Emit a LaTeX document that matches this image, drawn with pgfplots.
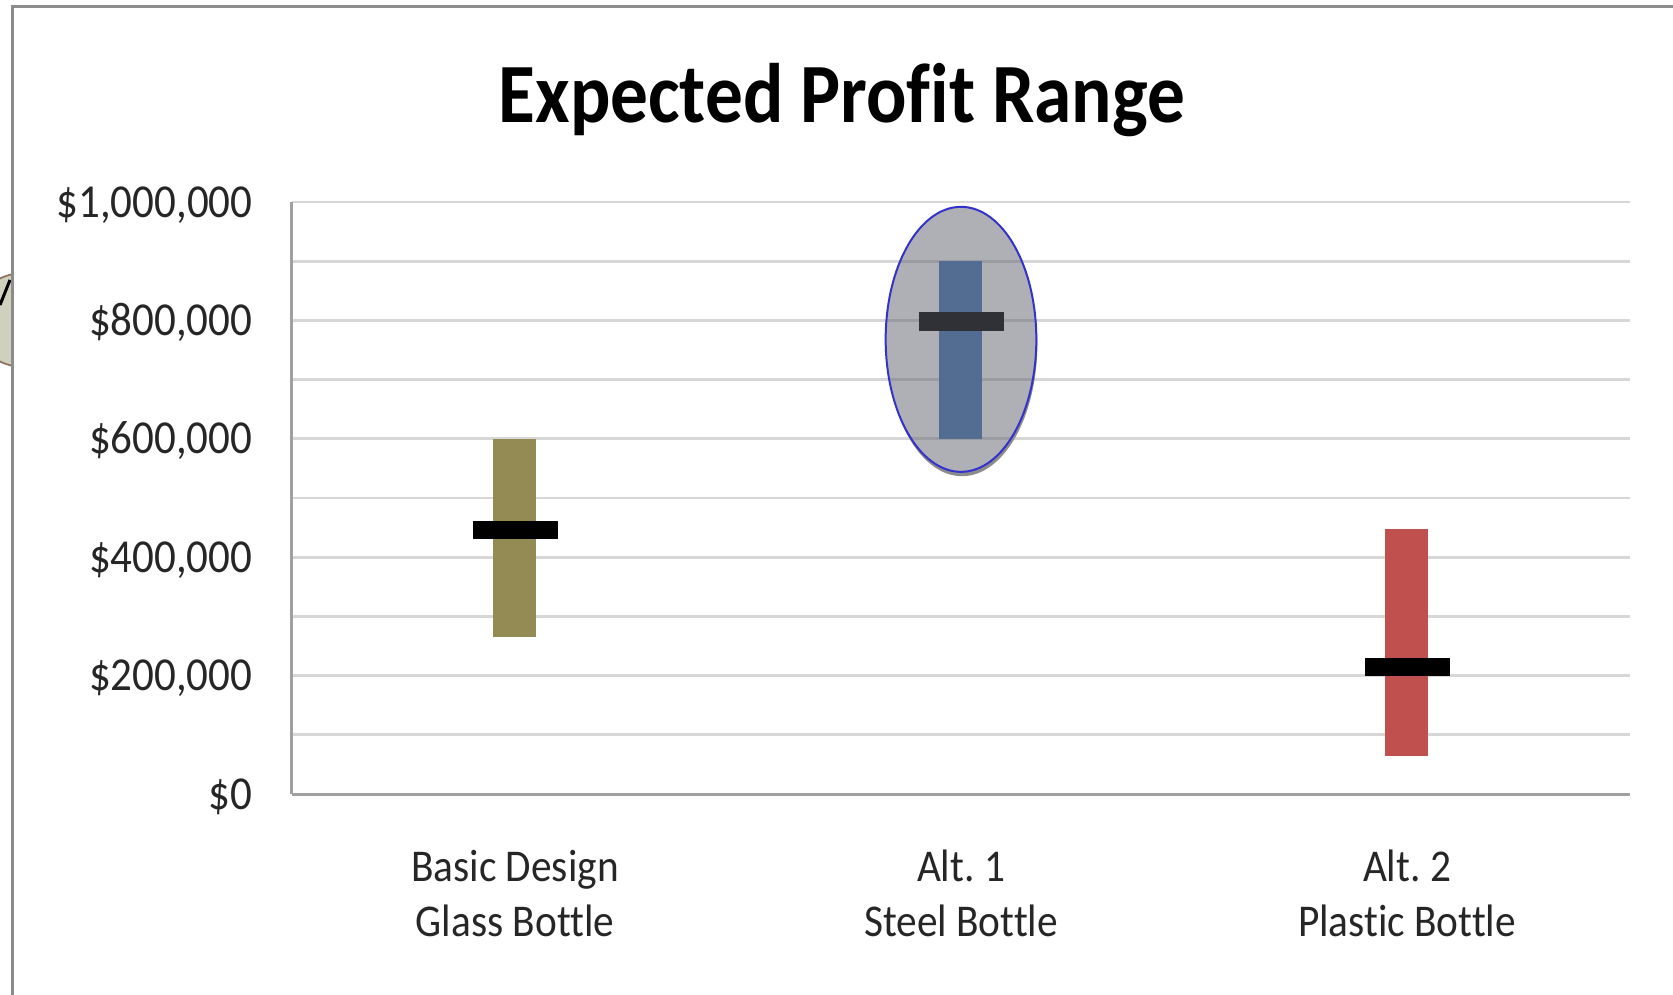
\documentclass[border=0pt]{standalone}
\usepackage{pgfplots}
\pgfplotsset{compat=1.18}
\usepackage{fontspec}
\setmainfont{Carlito}[Ligatures=NoCommon]
\frenchspacing
\definecolor{glass}{RGB}{148,138,84}
\definecolor{steel}{RGB}{69,119,183}
\definecolor{plastic}{RGB}{192,80,77}
\definecolor{ellfill}{RGB}{97,99,109}
\definecolor{ellline}{RGB}{51,51,204}
\definecolor{gridc}{RGB}{215,215,215}
\definecolor{axisc}{RGB}{160,160,160}
\definecolor{framec}{RGB}{140,140,140}
\definecolor{bubble}{RGB}{207,208,189}
\definecolor{bubbleline}{RGB}{139,110,94}
\newcommand\yl[1]{\scalebox{1}[1.1]{\fontsize{12.9}{15}\selectfont\$#1}}
\newcommand\cat[2]{\scalebox{1}[1.1]{\fontsize{12.4}{14.9}\selectfont\begin{tabular}{@{}c@{}}#1\\#2\end{tabular}}}
\begin{document}
\begin{tikzpicture}[x=0.3pt,y=0.3pt]
\useasboundingbox (0,0) rectangle (1673,994);
\clip (0,0) rectangle (1673,994);
\fill[white] (0,0) rectangle (1673,994);
\filldraw[fill=bubble, draw=bubbleline, line width=0.5pt] (30,674) ellipse [x radius=60, y radius=48];
\draw[line width=0.9pt] (0,689) -- (10,714);
\fill[white] (12,0) rectangle (1680,987);
\draw[framec, line width=0.9pt] (12,-5) -- (12,987) -- (1680,987);
\node[anchor=base] at (842,871) {\scalebox{1}[1.12]{\fontsize{22.6}{27}\selectfont\bfseries Expected Profit Range}};
\begin{axis}[at={(87.6pt,60pt)}, anchor=south west, scale only axis,
  width=401.4pt, height=177.6pt,
  xmin=-0.5, xmax=2.5, ymin=0, ymax=1000000,
  ybar stacked, bar width=12.9pt,
  axis x line*=bottom, axis y line*=left,
  axis line style={axisc, line width=0.9pt},
  xtick={0,1,2},
  xticklabels={{\cat{Basic Design}{Glass Bottle}},{\cat{Alt. 1}{Steel Bottle}},{\cat{Alt. 2}{Plastic Bottle}}},
  ytick={0,200000,400000,600000,800000,1000000},
  yticklabels={{\yl{0}},{\yl{200,000}},{\yl{400,000}},{\yl{600,000}},{\yl{800,000}},{\yl{1,000,000}}},
  minor ytick={100000,300000,500000,700000,900000},
  ymajorgrids, yminorgrids,
  grid style={gridc, line width=0.8pt},
  minor grid style={gridc, line width=0.8pt},
  major tick length=0pt, minor tick length=0pt,
  tick style={draw=none},
  yticklabel style={anchor=base east, inner sep=0pt, xshift=-11.7pt, yshift=-4.5pt, text=black!85},
  xticklabel style={anchor=north, inner sep=0pt, yshift=-14.7pt, text=black!85},
  scaled y ticks=false, clip=false]
\addplot[draw=none, fill=none] coordinates {(0,265000) (1,600000) (2,65000)};
\addplot[draw=none, fill=glass] coordinates {(0,335000) (1,0) (2,0)};
\addplot[draw=none, fill=steel] coordinates {(0,0) (1,300000) (2,0)};
\addplot[draw=none, fill=plastic] coordinates {(0,0) (1,0) (2,382000)};
\end{axis}
\begin{axis}[at={(87.6pt,60pt)}, anchor=south west, scale only axis,
  width=401.4pt, height=177.6pt,
  xmin=-0.5, xmax=2.5, ymin=0, ymax=1000000,
  hide axis, clip=false]
\addplot[only marks, mark=-, mark size=12.75pt, mark options={line width=5.6pt, draw=black}] coordinates {(0,446000) (1,798000) (2,214500)};
\coordinate (E) at (axis cs:1,768000);
\end{axis}
\begin{scope}[even odd rule]
\clip (200,0) rectangle (1673,994) (E) ellipse [x radius=22.6pt, y radius=39.75pt];
\fill[black!45] ([xshift=0.3pt, yshift=-1.3pt]E) ellipse [x radius=22.6pt, y radius=39.75pt];
\end{scope}
\filldraw[fill=ellfill, fill opacity=0.5, draw=ellline, line width=0.6pt] (E) ellipse [x radius=22.6pt, y radius=39.75pt];
\end{tikzpicture}
\end{document}
